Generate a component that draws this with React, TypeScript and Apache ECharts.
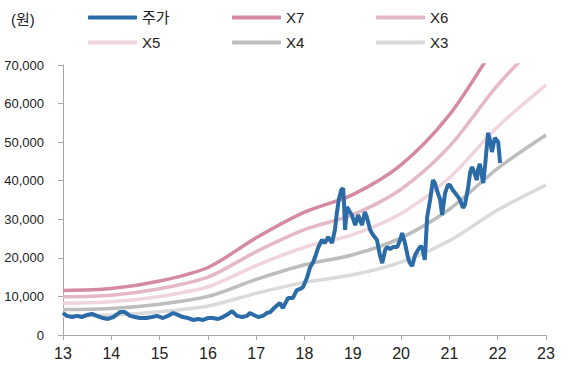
import React, { useEffect, useRef } from "react";
import * as echarts from "echarts";

const years = [13, 14, 15, 16, 17, 18, 19, 20, 21, 22, 23];
const yTicks = [0, 10000, 20000, 30000, 40000, 50000, 60000, 70000];

const x7 = [11550, 12040, 14000, 17500, 25200, 31850, 36400, 44100, 57050, 75600, 90720];
const x6 = [9900, 10320, 12000, 15000, 21600, 27300, 31200, 37800, 48900, 64800, 77760];
const x5 = [8250, 8600, 10000, 12500, 18000, 22750, 26000, 31500, 40750, 54000, 64800];
const x4 = [6600, 6880, 8000, 10000, 14400, 18200, 20800, 25200, 32600, 43200, 51840];
const x3 = [4950, 5160, 6000, 7500, 10800, 13650, 15600, 18900, 24450, 32400, 38880];

const stock = [
  [13.00,5700],[13.08,4950],[13.19,4650],[13.29,4950],[13.39,4650],[13.50,5200],[13.60,5450],[13.70,4950],[13.83,4400],[13.93,4150],
  [14.04,4650],[14.18,5950],[14.28,5950],[14.39,4950],[14.49,4650],[14.59,4400],[14.72,4400],[14.84,4650],[14.95,4950],[15.07,4400],
  [15.17,4950],[15.28,5700],[15.38,5200],[15.48,4650],[15.59,4400],[15.69,3900],[15.80,4150],[15.90,3900],[16.00,4400],[16.10,4400],
  [16.21,4150],[16.31,4650],[16.42,5450],[16.50,6200],[16.60,4950],[16.71,4650],[16.81,4950],[16.87,5700],[16.95,5200],[17.04,4650],
  [17.14,4950],[17.22,5700],[17.29,5950],[17.37,7000],[17.49,8300],[17.55,7000],[17.66,9600],[17.76,9600],[17.84,11650],[17.91,11950],
  [17.97,12450],[18.05,14800],[18.11,17350],[18.18,18950],[18.22,20200],[18.28,22550],[18.36,24650],[18.42,23850],[18.49,25400],[18.57,23850],
  [18.63,27250],[18.67,31650],[18.71,35000],[18.76,37600],[18.80,38100],[18.82,33700],[18.84,27250],[18.88,33200],[18.94,31900],[18.98,31100],
  [19.05,28500],[19.11,31100],[19.19,28500],[19.25,31900],[19.29,30600],[19.36,27250],[19.42,25950],[19.50,24650],[19.56,20750],[19.61,18650],
  [19.67,22050],[19.71,22800],[19.77,22300],[19.83,22800],[19.92,22800],[19.98,24650],[20.02,26450],[20.08,23850],[20.14,20200],[20.18,18650],
  [20.23,17900],[20.29,20750],[20.35,22050],[20.41,23100],[20.45,22050],[20.49,19450],[20.54,30600],[20.60,35000],[20.66,40200],[20.70,39400],
  [20.74,37600],[20.81,35000],[20.85,31100],[20.91,36800],[20.97,38900],[21.01,38900],[21.07,37600],[21.12,36800],[21.18,35800],[21.22,35000],
  [21.28,32950],[21.32,33700],[21.39,38400],[21.43,42250],[21.47,43550],[21.53,41500],[21.57,40200],[21.59,42800],[21.63,44350],[21.68,40700],
  [21.70,39400],[21.74,44100],[21.80,52400],[21.84,50550],[21.88,47450],[21.94,51100],[22.01,50050],[22.05,44600]
];

const FONT = "'Liberation Sans', 'Noto Sans CJK KR', sans-serif";

const bands = [
  { name: "X7", data: x7, color: "#d48aa0" },
  { name: "X6", data: x6, color: "#e6b8c6" },
  { name: "X5", data: x5, color: "#f0d4de" },
  { name: "X4", data: x4, color: "#bdbdbd" },
  { name: "X3", data: x3, color: "#dadada" },
];

const legendPos = [
  { name: "주가", left: 88, top: 10 },
  { name: "X7", left: 232, top: 10 },
  { name: "X6", left: 376, top: 10 },
  { name: "X5", left: 88, top: 35 },
  { name: "X4", left: 232, top: 35 },
  { name: "X3", left: 376, top: 35 },
];

export default function App() {
  const ref = useRef<HTMLDivElement>(null);
  useEffect(() => {
    document.body.style.margin = "0";
    const chart = echarts.init(ref.current!, null, { renderer: "svg" });
    const option: any = {
      animation: false,
      title: {
        text: "(원)",
        left: 11,
        top: 12,
        padding: 0,
        textStyle: { fontSize: 15, fontWeight: "normal", color: "#222", fontFamily: FONT },
      },
      legend: legendPos.map((l) => ({
        data: [{ name: l.name, icon: "roundRect" }],
        left: l.left,
        top: l.top,
        padding: 0,
        itemWidth: 49,
        itemHeight: 4,
        itemGap: 0,
        selectedMode: false,
        textStyle: { fontSize: 15, color: "#222", fontFamily: FONT },
      })),
      grid: { left: 63, right: 22, top: 65, bottom: 36, containLabel: false, outerBoundsMode: "none" },
      xAxis: {
        type: "value",
        min: 13,
        max: 23,
        interval: 1,
        axisLine: { lineStyle: { color: "#a6a6a6", width: 1 } },
        axisTick: { show: true, length: 5, lineStyle: { color: "#a6a6a6" } },
        splitLine: { show: false },
        axisLabel: { fontSize: 16, color: "#222", fontFamily: FONT, margin: 10 },
      },
      yAxis: {
        type: "value",
        min: yTicks[0],
        max: yTicks[yTicks.length - 1],
        interval: 10000,
        axisLine: { show: true, lineStyle: { color: "#a6a6a6", width: 1 } },
        axisTick: { show: true, length: 5, lineStyle: { color: "#a6a6a6" } },
        splitLine: { show: false },
        axisLabel: {
          fontSize: 13,
          color: "#222",
          fontFamily: FONT,
          margin: 19,
          formatter: (v: number) => v.toLocaleString("en-US"),
        },
      },
      series: [
        ...bands.map((b) => ({
          name: b.name,
          type: "line",
          data: years.map((y, i) => [y, b.data[i]]),
          smooth: 0.3,
          symbol: "none",
          clip: true,
          color: b.color,
          lineStyle: { color: b.color, width: 3.5 },
          z: 2,
        })),
        {
          name: "주가",
          type: "line",
          data: stock,
          symbol: "none",
          color: "#2b6ca8",
          lineStyle: { color: "#2b6ca8", width: 4 },
          z: 3,
        },
      ],
    };
    chart.setOption(option);
    return () => chart.dispose();
  }, []);
  return <div ref={ref} style={{ width: 568, height: 371 }} />;
}
